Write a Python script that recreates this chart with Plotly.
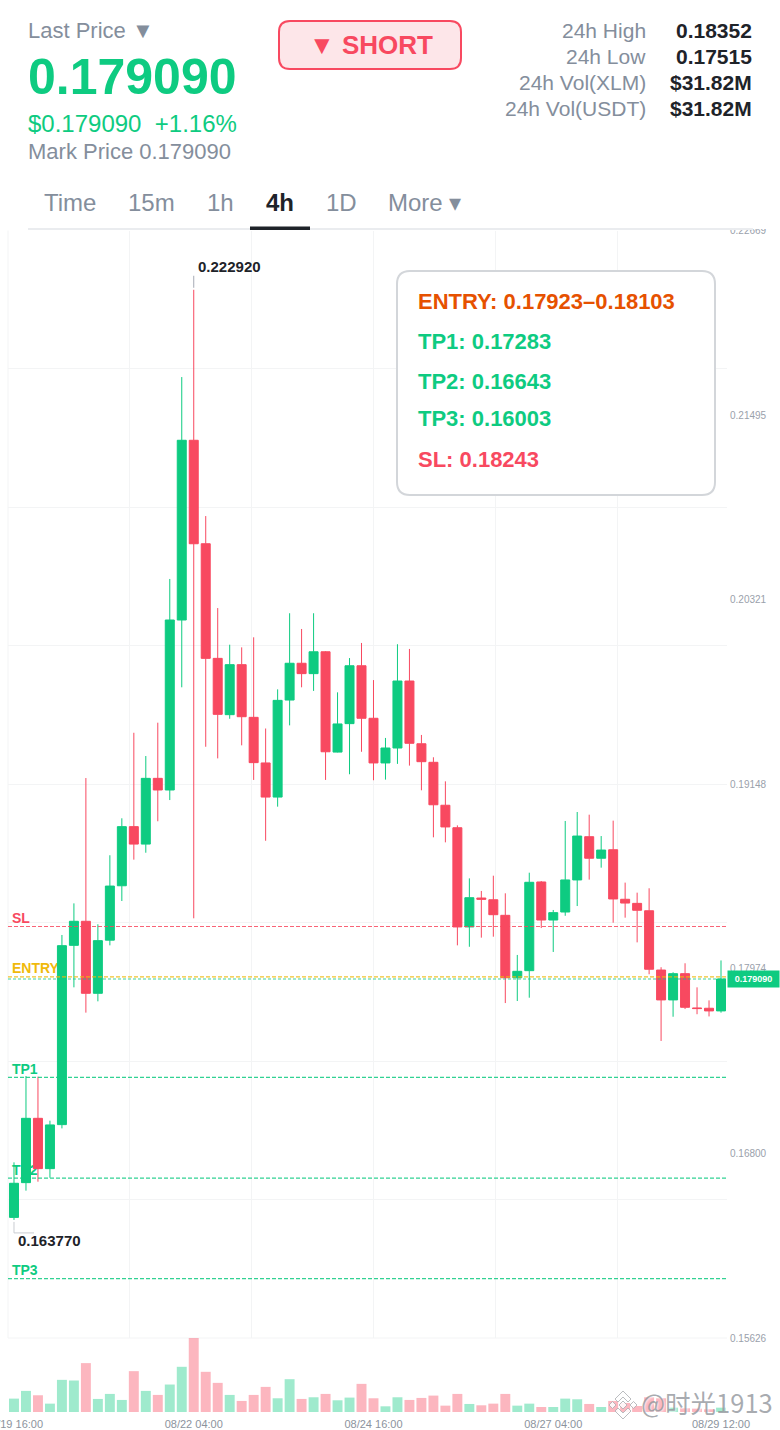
import pandas as pd
import plotly.graph_objects as go

W, H = 780, 1430

# 4h candles
opens = [.16393, .16614, .17023, .16703, .16983, .18123, .18276, .17818, .18156, .18502,
         .18878, .18767, .19185, .19111, .20192, .21335, .20677, .19948, .19590, .19908,
         .19573, .19283, .19066, .19683, .19917, .19851, .19990, .19352, .19533, .19901,
         .19567, .19283, .19378, .19804, .19405, .19287, .19014, .18871, .18240, .18424,
         .18413, .18314, .17917, .17962, .18526, .18284, .18335, .18539, .18814, .18677,
         .18731, .18416, .18390, .18343, .17966, .17776, .17943, .17725, .17723, .17706]
highs = [.16743, .17292, .17288, .17008, .18189, .18390, .19187, .18257, .18696, .18931,
         .19475, .19327, .19539, .20453, .21737, .22292, .20853, .20268, .20035, .20018,
         .20082, .19502, .19751, .20235, .20135, .20235, .19994, .19732, .19950, .20046,
         .19810, .19442, .20038, .20008, .19461, .19319, .19166, .18886, .18549, .18469,
         .18566, .18454, .18062, .18585, .18532, .18348, .18914, .18971, .18954, .18818,
         .18916, .18522, .18458, .18486, .17984, .17952, .18009, .17856, .17773, .18027]
lows = [.16377, .16563, .16620, .16645, .16959, .17856, .17695, .17767, .18123, .18405,
        .18668, .18712, .18912, .19047, .19764, .18295, .19386, .19312, .19564, .19395,
        .19175, .18788, .19005, .19522, .19764, .19741, .19175, .19350, .19211, .19354,
        .19173, .19177, .19277, .19266, .19109, .18810, .18778, .18123, .18114, .18172,
        .18178, .17756, .17769, .17790, .18233, .18081, .18311, .18373, .18541, .18617,
        .18267, .18299, .18142, .17939, .17515, .17669, .17718, .17685, .17671, .17695]
closes = [.16610, .17023, .16703, .16981, .18121, .18276, .17818, .18153, .18500, .18878,
          .18767, .19185, .19111, .20192, .21335, .20677, .19948, .19592, .19908, .19577,
          .19285, .19066, .19681, .19917, .19851, .19990, .19354, .19531, .19901, .19567,
          .19283, .19378, .19804, .19408, .19291, .19017, .18876, .18240, .18426, .18416,
          .18318, .17917, .17958, .18524, .18284, .18331, .18539, .18818, .18677, .18729,
          .18418, .18392, .18346, .17971, .17776, .17943, .17729, .17721, .17706, .17909]
volumes = [40, 63, 50, 25, 96, 94, 146, 39, 54, 36, 122, 63, 51, 82, 135, 221, 120, 87, 51, 33,
           51, 75, 41, 98, 39, 44, 54, 35, 43, 84, 41, 17, 44, 36, 42, 49, 19, 54, 24, 20,
           25, 54, 19, 25, 15, 15, 40, 38, 24, 15, 33, 27, 18, 44, 41, 13, 11, 10, 8, 13]

date_ticks = ["2025-08-19 16:00", "2025-08-22 04:00", "2025-08-24 16:00", "2025-08-27 04:00", "2025-08-29 12:00"]
date_labels = ["08/19 16:00", "08/22 04:00", "08/24 16:00", "08/27 04:00", "08/29 12:00"]
price_ticks = [0.22669, 0.21495, 0.20321, 0.19148, 0.17974, 0.16800, 0.15626]

last_price = 0.17909
high_price, low_price = 0.22292, 0.16377
level_names = ["SL", "ENTRY", "TP1", "TP2", "TP3"]
level_values = [0.18243, 0.17923, 0.17283, 0.16643, 0.16003]

GREEN = "#0ecb81"
RED = "#f84960"
YELLOW = "#f0b90b"
GRAY = "#848e9c"
DARK = "#1e2329"
GRID = "#f3f4f5"
level_colors = [RED, YELLOW, GREEN, GREEN, GREEN]

dates = pd.date_range("2025-08-19 16:00", periods=len(opens), freq="4h")
x_range = ["2025-08-19 14:00", "2025-08-29 14:00"]
y_range = [0.15626, 0.22669]


def px(x):
    return x / W


def py(y):
    return 1 - y / H


def rounded(x0, y0, x1, y1, r):
    return (f"M {px(x0 + r)} {py(y0)} L {px(x1 - r)} {py(y0)} Q {px(x1)} {py(y0)} {px(x1)} {py(y0 + r)} "
            f"L {px(x1)} {py(y1 - r)} Q {px(x1)} {py(y1)} {px(x1 - r)} {py(y1)} "
            f"L {px(x0 + r)} {py(y1)} Q {px(x0)} {py(y1)} {px(x0)} {py(y1 - r)} "
            f"L {px(x0)} {py(y0 + r)} Q {px(x0)} {py(y0)} {px(x0 + r)} {py(y0)} Z")


def poly(cx, cy, points):
    d = " L ".join(f"{px(cx + a)} {py(cy + b)}" for a, b in points)
    return f"M {d} Z"


fig = go.Figure()

# labels live on the base subplot so the candles cover them
fig.add_trace(go.Scatter(
    x=[pd.Timestamp(x_range[0]) + pd.Timedelta(minutes=80)] * len(level_names), y=level_values,
    mode="text", text=[f"<b>{n}</b>" for n in level_names], textposition="top right",
    textfont=dict(size=14, color=level_colors, family="Liberation Sans"),
    xaxis="x", yaxis="y", showlegend=False, hoverinfo="skip"))

fig.add_trace(go.Candlestick(
    x=dates, open=opens, high=highs, low=lows, close=closes,
    increasing=dict(line=dict(color=GREEN, width=1), fillcolor=GREEN),
    decreasing=dict(line=dict(color=RED, width=1), fillcolor=RED),
    xaxis="x", yaxis="y3", showlegend=False))

fig.add_trace(go.Bar(
    x=dates, y=volumes,
    marker=dict(color=["rgba(14,203,129,0.4)" if c >= o else "rgba(248,73,96,0.4)"
                       for o, c in zip(opens, closes)], line=dict(width=0)),
    xaxis="x2", yaxis="y2", showlegend=False))

axis_font = dict(family="Liberation Sans", size=10, color="#9aa1ab")
fig.update_layout(
    width=W, height=H, margin=dict(l=0, r=0, t=0, b=0),
    paper_bgcolor="white", plot_bgcolor="white",
    font=dict(family="Liberation Sans"), showlegend=False, bargap=0.17, boxgap=0.25, boxgroupgap=0,
    xaxis=dict(domain=[px(8), px(727)], range=x_range, type="date", anchor="y", rangeslider=dict(visible=False),
               tick0=x_range[0], dtick=146500000, showgrid=True, gridcolor=GRID, gridwidth=1,
               showticklabels=False, ticks="", zeroline=False, automargin=False),
    yaxis=dict(domain=[py(1338), py(230.5)], range=y_range, anchor="x",
               tick0=0.15626, dtick=0.00880375, showgrid=True, gridcolor=GRID, gridwidth=1,
               showticklabels=False, ticks="", zeroline=False, automargin=False),
    yaxis3=dict(domain=[py(1338), py(230.5)], range=y_range, overlaying="y", side="right", anchor="x",
                tickmode="array", tickvals=price_ticks, ticktext=[f"{v:.5f}" for v in price_ticks],
                tickfont=axis_font, showgrid=False, ticks="", zeroline=False, ticklabeloverflow="allow",
                ticklabelstandoff=2, automargin=False),
    xaxis2=dict(domain=[px(8), px(727)], range=x_range, type="date", anchor="y2",
                tickmode="array", tickvals=date_ticks, ticktext=date_labels,
                tickfont=dict(family="Liberation Sans", size=11, color="#8c939d"),
                showgrid=False, ticks="", zeroline=False, ticklabeloverflow="allow",
                ticklabelstandoff=4, automargin=False),
    yaxis2=dict(domain=[py(1412), py(1338)], range=[0, max(volumes)], anchor="x2",
                showticklabels=False, showgrid=False, ticks="", zeroline=False, automargin=False),
)

shapes = []
# plotly drops the grid lines that fall on the axis ends
shapes.append(dict(type="line", xref="x domain", yref="y domain", x0=0, x1=0, y0=0, y1=1,
                   layer="below", line=dict(color=GRID, width=1)))
shapes.append(dict(type="line", xref="x domain", yref="y domain", x0=0, x1=1, y0=0, y1=0,
                   layer="below", line=dict(color=GRID, width=1)))
# header sits on top of the chart, it also cuts the first price label
shapes.append(dict(type="rect", xref="paper", yref="paper", x0=0, x1=1, y0=py(229), y1=1,
                   fillcolor="white", line=dict(width=0)))
shapes.append(dict(type="rect", xref="paper", yref="paper", x0=px(28), x1=px(753), y0=py(230), y1=py(228),
                   fillcolor="#eaecef", line=dict(width=0)))
shapes.append(dict(type="rect", xref="paper", yref="paper", x0=px(250), x1=px(310), y0=py(230), y1=py(226.5),
                   fillcolor=DARK, line=dict(width=0)))
shapes.append(dict(type="path", xref="paper", yref="paper", path=rounded(279, 21, 461, 69, 11),
                   fillcolor="#fde6e9", line=dict(color=RED, width=2)))
shapes.append(dict(type="path", xref="paper", yref="paper", path=rounded(397, 271, 715, 495, 13),
                   fillcolor="white", line=dict(color="#d3d6da", width=2)))

# target lines
for value, color in zip(level_values, level_colors):
    shapes.append(dict(type="line", xref="x domain", yref="y", x0=0, x1=1, y0=value, y1=value,
                       line=dict(color=color, width=1.2, dash="4px,2px"), opacity=0.85))
shapes.append(dict(type="line", xref="x domain", yref="y", x0=0, x1=1, y0=last_price, y1=last_price,
                   line=dict(color=GREEN, width=1.2, dash="3px,2px"), opacity=0.8))

# stubs at the high and low of the range
stub = dict(type="line", xref="x", yref="y", xsizemode="pixel", ysizemode="pixel")
shapes.append(dict(stub, xanchor=dates[15], yanchor=high_price, x0=0, x1=0, y0=2, y1=14,
                   line=dict(color="#a6abb5", width=1)))
shapes.append(dict(stub, xanchor=dates[0], yanchor=low_price, x0=0, x1=0, y0=-2, y1=-13,
                   line=dict(color="#c9ccd1", width=1)))
shapes.append(dict(stub, xanchor=dates[0], yanchor=low_price, x0=0, x1=20, y0=-13, y1=-13,
                   line=dict(color="#c9ccd1", width=1)))

# watermark logo
logo = dict(type="path", xref="paper", yref="paper", fillcolor="rgba(255,255,255,0.85)",
            line=dict(color="rgba(170,172,176,0.8)", width=1))
top_chevron = [(0, -14), (8, -6), (5, -3), (0, -8), (-5, -3), (-8, -6)]
for part in [top_chevron, [(a, -b) for a, b in top_chevron],
             [(-14, 0), (-10.5, -3.5), (-7, 0), (-10.5, 3.5)],
             [(14, 0), (10.5, -3.5), (7, 0), (10.5, 3.5)],
             [(-4, 0), (0, -4), (4, 0), (0, 4)]]:
    shapes.append(dict(logo, path=poly(623, 1405, part)))
fig.update_layout(shapes=shapes)


def note(x, y, text, size, color, anchor="left", bold=False, family="Liberation Sans"):
    # annotations carry a little padding, take it back so x is the text edge
    shift = {"left": -2, "right": 2, "center": 0}[anchor]
    fig.add_annotation(xref="paper", yref="paper", x=px(x), y=py(y), text=f"<b>{text}</b>" if bold else text,
                       showarrow=False, xanchor=anchor, yanchor="middle", align=anchor, xshift=shift,
                       font=dict(size=size, color=color, family=family))


# header
note(28, 31, "Last Price ▼", 22, GRAY)
note(28, 77, "0.179090", 50, GREEN, bold=True)
note(28, 124, "$0.179090&nbsp;&nbsp;+1.16%", 24, GREEN)
note(28, 152, "Mark Price 0.179090", 22, GRAY)
note(371, 45, "▼ SHORT", 26, RED, anchor="center", bold=True)

stat_names = ["24h High", "24h Low", "24h Vol(XLM)", "24h Vol(USDT)"]
stat_values = ["0.18352", "0.17515", "$31.82M", "$31.82M"]
for i in range(4):
    note(646, 31 + 26 * i, stat_names[i], 21, GRAY, anchor="right")
    note(752, 31 + 26 * i, stat_values[i], 21, DARK, anchor="right", bold=True)

tab_names = ["Time", "15m", "1h", "4h", "1D", "More ▾"]
tab_centers = [70, 151, 220, 280, 341, 425]
for name, cx in zip(tab_names, tab_centers):
    active = name == "4h"
    note(cx, 202, name, 24, DARK if active else GRAY, anchor="center", bold=active)

# signal box
box_rows = ["ENTRY: 0.17923–0.18103", "TP1: 0.17283", "TP2: 0.16643", "TP3: 0.16003", "SL: 0.18243"]
box_colors = ["#e65100", GREEN, GREEN, GREEN, RED]
box_rows_y = [301, 341, 381, 419, 459]
for row, color, y in zip(box_rows, box_colors, box_rows_y):
    note(418, y, row, 22, color, bold=True)

# high / low labels
for i, value, label, dy in [(15, high_price, "0.222920", 23), (0, low_price, "0.163770", -21)]:
    fig.add_annotation(xref="x", yref="y", x=dates[i], y=value, text=f"<b>{label}</b>", showarrow=False,
                       xanchor="left", yanchor="middle", xshift=2, yshift=dy,
                       font=dict(size=15, color=DARK, family="Liberation Sans"))

# last price tag
fig.add_annotation(xref="paper", yref="y", x=px(727), y=last_price, text=f"<b>{last_price:.6f}</b>", showarrow=False,
                   xanchor="left", yanchor="middle", width=51, height=16, bgcolor=GREEN, borderpad=0,
                   font=dict(size=9, color="white", family="Liberation Sans"))

# watermark
fig.add_annotation(xref="paper", yref="paper", x=px(639), y=py(1401), text="@时光1913", showarrow=False,
                   xanchor="left", yanchor="middle",
                   font=dict(size=25.5, color="rgba(140,144,150,0.75)", family="Noto Sans CJK SC",
                             shadow="1px 1px 2px white"))

# the page's default body margin would push the fixed-size figure off the window
fig.write_html("out.html", config={"displayModeBar": False}, post_script="document.body.style.margin = '0';")
